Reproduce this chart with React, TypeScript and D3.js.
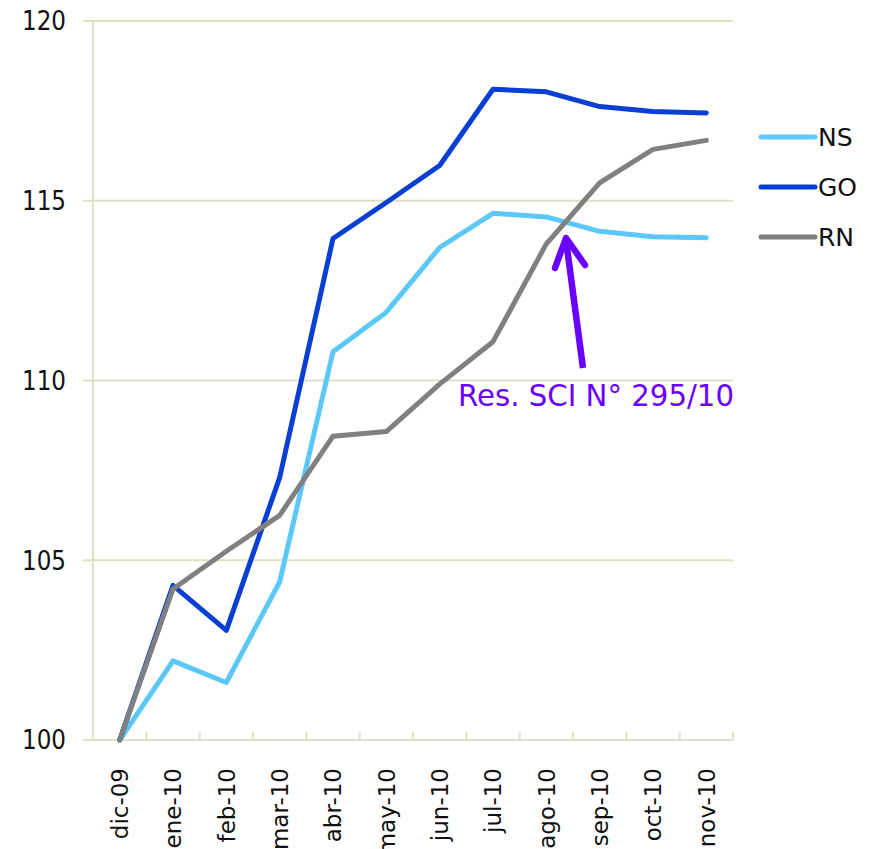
import React, { useEffect, useRef } from "react";
import * as d3 from "d3";

// ── Data ──────────────────────────────────────────────────────────────────────

const MONTHS = ["dic-09", "ene-10", "feb-10", "mar-10", "abr-10", "may-10", "jun-10", "jul-10", "ago-10", "sep-10", "oct-10", "nov-10"];
const NS = [100, 102.2, 101.6, 104.4, 110.8, 111.9, 113.7, 114.65, 114.55, 114.15, 114.0, 113.97];
const GO = [100, 104.3, 103.05, 107.3, 113.95, 114.95, 115.98, 118.1, 118.03, 117.62, 117.48, 117.44];
const RN = [100, 104.2, 105.25, 106.25, 108.45, 108.58, 109.9, 111.08, 113.8, 115.5, 116.43, 116.68];
const Y_TICKS = [100, 105, 110, 115, 120];

const SERIES = [
  { name: "NS", values: NS, color: "#5cc8fa" },
  { name: "GO", values: GO, color: "#0a3fd4" },
  { name: "RN", values: RN, color: "#808080" },
];

// ── Layout ────────────────────────────────────────────────────────────────────

const W = 873;
const H = 849;
const PLOT = { left: 93, right: 733, top: 21, bottom: 740 };
const GRID = "#dfe1c6";
const PURPLE = "#6a00ff";
const FONT = "'DejaVu Sans', sans-serif";

function renderChart(svgEl: SVGSVGElement) {
  const svg = d3.select(svgEl);
  svg.selectAll("*").remove();

  const x = d3.scaleBand<string>().domain(MONTHS).range([PLOT.left, PLOT.right]);
  const y = d3.scaleLinear().domain([100, 120]).range([PLOT.bottom, PLOT.top]);
  const cx = (m: string) => (x(m) ?? 0) + x.bandwidth() / 2;

  // Gridlines
  svg
    .append("g")
    .selectAll("line")
    .data(Y_TICKS)
    .join("line")
    .attr("x1", PLOT.left - 10)
    .attr("x2", PLOT.right)
    .attr("y1", (d) => y(d))
    .attr("y2", (d) => y(d))
    .attr("stroke", GRID)
    .attr("stroke-width", 2);

  // Y axis line
  svg
    .append("line")
    .attr("x1", PLOT.left)
    .attr("x2", PLOT.left)
    .attr("y1", PLOT.top)
    .attr("y2", PLOT.bottom)
    .attr("stroke", GRID)
    .attr("stroke-width", 2);

  // X tick marks between categories
  const bounds = MONTHS.map((m) => x(m) ?? 0).concat([PLOT.right]);
  svg
    .append("g")
    .selectAll("line")
    .data(bounds)
    .join("line")
    .attr("x1", (d) => d)
    .attr("x2", (d) => d)
    .attr("y1", PLOT.bottom)
    .attr("y2", PLOT.bottom - 8)
    .attr("stroke", GRID)
    .attr("stroke-width", 2);

  // Y labels
  svg
    .append("g")
    .selectAll("text")
    .data(Y_TICKS)
    .join("text")
    .attr("x", 66)
    .attr("y", (d) => y(d))
    .attr("dy", "0.36em")
    .attr("text-anchor", "end")
    .attr("font-size", 26)
    .attr("font-family", FONT)
    .attr("fill", "#111")
    .attr("textLength", 44)
    .attr("lengthAdjust", "spacingAndGlyphs")
    .text((d) => String(d));

  // X labels (rotated)
  svg
    .append("g")
    .selectAll("text")
    .data(MONTHS)
    .join("text")
    .attr("transform", (d) => `translate(${cx(d)},${PLOT.bottom + 28}) rotate(-90)`)
    .attr("dy", "0.36em")
    .attr("text-anchor", "end")
    .attr("font-size", 23)
    .attr("font-family", FONT)
    .attr("fill", "#111")
    .text((d) => d);

  // Lines
  const line = d3
    .line<number>()
    .x((_, i) => cx(MONTHS[i]))
    .y((d) => y(d));

  SERIES.forEach((s) => {
    svg
      .append("path")
      .attr("d", line(s.values))
      .attr("fill", "none")
      .attr("stroke", s.color)
      .attr("stroke-width", 5)
      .attr("stroke-linejoin", "round")
      .attr("stroke-linecap", "round");
  });

  // Legend
  const legend = svg.append("g");
  SERIES.forEach((s, i) => {
    const ly = 137 + i * 50;
    legend
      .append("line")
      .attr("x1", 761)
      .attr("x2", 815)
      .attr("y1", ly)
      .attr("y2", ly)
      .attr("stroke", s.color)
      .attr("stroke-width", 5)
      .attr("stroke-linecap", "round");
    legend
      .append("text")
      .attr("x", 818)
      .attr("y", ly)
      .attr("dy", "0.36em")
      .attr("font-size", 25)
      .attr("font-family", FONT)
      .attr("fill", "#111")
      .text(s.name);
  });

  // Annotation
  svg
    .append("text")
    .attr("x", 458)
    .attr("y", 406)
    .attr("font-size", 30)
    .attr("font-family", FONT)
    .attr("fill", PURPLE)
    .attr("textLength", 276)
    .attr("lengthAdjust", "spacingAndGlyphs")
    .text("Res. SCI N° 295/10");

  svg
    .append("line")
    .attr("x1", 583)
    .attr("y1", 368)
    .attr("x2", 566)
    .attr("y2", 240)
    .attr("stroke", PURPLE)
    .attr("stroke-width", 6.5);
  svg
    .append("path")
    .attr("d", "M555,268 L566,238 L585,265")
    .attr("fill", "none")
    .attr("stroke", PURPLE)
    .attr("stroke-width", 6.5)
    .attr("stroke-linecap", "round")
    .attr("stroke-linejoin", "round");
}

export default function App() {
  const svgRef = useRef<SVGSVGElement>(null);

  useEffect(() => {
    if (svgRef.current) renderChart(svgRef.current);
  }, []);

  return (
    <svg
      ref={svgRef}
      width={W}
      height={H}
      style={{ position: "absolute", left: 0, top: 0, background: "#fff" }}
    />
  );
}
